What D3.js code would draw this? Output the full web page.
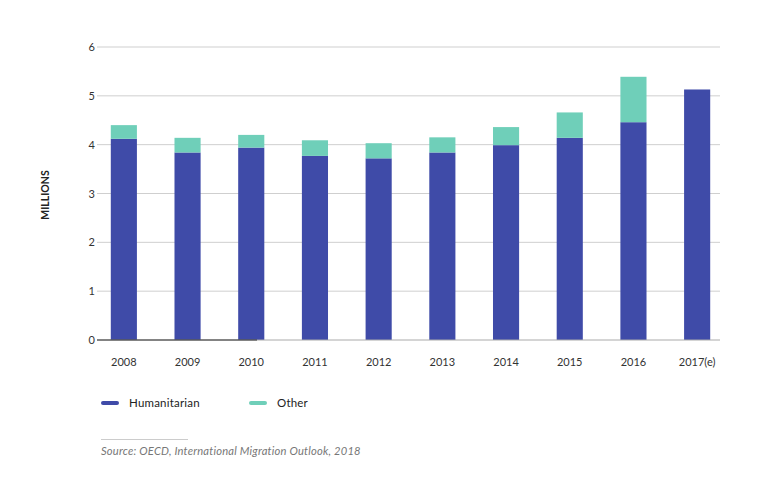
<!DOCTYPE html>
<html>
<head>
<meta charset="utf-8">
<script src="https://cdn.jsdelivr.net/npm/d3@7"></script>
<style>
  body { margin: 0; background: #fff; font-family: Lato, "Open Sans", sans-serif; }
</style>
</head>
<body>
<script>
var years = ["2008", "2009", "2010", "2011", "2012", "2013", "2014", "2015", "2016", "2017(e)"];
var humanitarian = [4.12, 3.84, 3.94, 3.77, 3.72, 3.84, 3.99, 4.14, 4.46, 5.13];
var other = [0.28, 0.30, 0.26, 0.32, 0.31, 0.31, 0.37, 0.52, 0.93, 0];
var yTicks = [0, 1, 2, 3, 4, 5, 6];
var seriesNames = ["Humanitarian", "Other"];
var colors = ["#3f4ba8", "#6fcfb9"];

var width = 760, height = 496;
var svg = d3.select("body").append("svg")
    .attr("width", width)
    .attr("height", height);

var x = d3.scaleBand().domain(years).range([92, 729]).paddingInner(0.59).paddingOuter(0.295);
var y = d3.scaleLinear().domain([0, 6]).range([340, 47]);

// gridlines
svg.selectAll(".grid")
    .data(yTicks.slice(1))
    .enter().append("line")
    .attr("x1", 97).attr("x2", 720)
    .attr("y1", function (d) { return y(d); })
    .attr("y2", function (d) { return y(d); })
    .style("stroke", "#cfcfcf")
    .style("stroke-width", 1);

// y tick labels
svg.selectAll(".ytick")
    .data(yTicks)
    .enter().append("text")
    .attr("x", 95)
    .attr("y", function (d) { return y(d) + 4; })
    .attr("text-anchor", "end")
    .style("font-size", "11px")
    .style("fill", "#333")
    .text(function (d) { return d; });

// stacked bars
var rows = years.map(function (yr, i) {
    return { year: yr, Humanitarian: humanitarian[i], Other: other[i] };
});
var stack = d3.stack().keys(seriesNames)(rows);

svg.selectAll(".series")
    .data(stack)
    .enter().append("g")
    .style("fill", function (d, i) { return colors[i]; })
    .selectAll("rect")
    .data(function (d) { return d; })
    .enter().append("rect")
    .attr("x", function (d) { return x(d.data.year); })
    .attr("width", x.bandwidth())
    .attr("y", function (d) { return y(d[1]); })
    .attr("height", function (d) { return y(d[0]) - y(d[1]); });

// baseline
svg.append("line")
    .attr("x1", 97).attr("x2", 720)
    .attr("y1", y(0)).attr("y2", y(0))
    .style("stroke", "#aaa");
svg.append("line")
    .attr("x1", 97).attr("x2", 257)
    .attr("y1", y(0)).attr("y2", y(0))
    .style("stroke", "#333");

// x labels
svg.selectAll(".xtick")
    .data(years)
    .enter().append("text")
    .attr("x", function (d) { return x(d) + x.bandwidth() / 2; })
    .attr("y", 366)
    .attr("text-anchor", "middle")
    .style("font-size", "11px")
    .style("fill", "#333")
    .text(function (d) { return d; });

// axis title
svg.append("text")
    .attr("transform", "translate(49,195) rotate(-90)")
    .attr("text-anchor", "middle")
    .style("font-size", "10.5px")
    .style("font-weight", "bold")
    .style("fill", "#222")
    .text("MILLIONS");

// legend
var legendX = [101, 249];
var legend = svg.selectAll(".legend")
    .data(seriesNames)
    .enter().append("g")
    .attr("transform", function (d, i) { return "translate(" + legendX[i] + ",403)"; });
legend.append("line")
    .attr("x1", 2).attr("x2", 16)
    .attr("y1", 0).attr("y2", 0)
    .style("stroke", function (d, i) { return colors[i]; })
    .style("stroke-width", 4)
    .style("stroke-linecap", "round");
legend.append("text")
    .attr("x", 28)
    .attr("y", 4)
    .style("font-size", "11.5px")
    .style("letter-spacing", "0.2px")
    .style("fill", "#222")
    .text(function (d) { return d; });

// source
svg.append("line")
    .attr("x1", 101).attr("x2", 188)
    .attr("y1", 439.5).attr("y2", 439.5)
    .style("stroke", "#ccc");
svg.append("text")
    .attr("x", 101)
    .attr("y", 455)
    .style("font-size", "11.2px")
    .style("letter-spacing", "0.2px")
    .style("font-style", "italic")
    .style("fill", "#777")
    .text("Source: OECD, International Migration Outlook, 2018");
</script>
</body>
</html>
